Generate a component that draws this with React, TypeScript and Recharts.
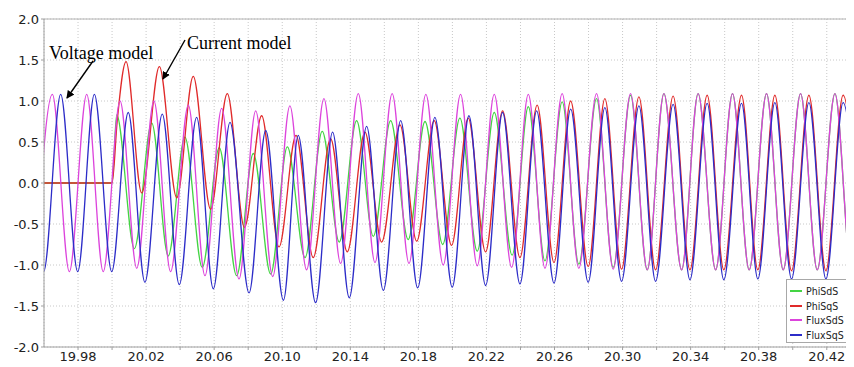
import React from 'react';
import { LineChart, Line, XAxis, YAxis, CartesianGrid, ReferenceLine } from 'recharts';

// peaks/troughs (t in s, flux in pu); monotone curve fills in between
const phiSdS_t = [19.96, 20.0, 20.0027, 20.0131, 20.0233, 20.033, 20.0428, 20.053, 20.063, 20.0732, 20.083, 20.0932, 20.103, 20.1134, 20.1235, 20.1335, 20.1437, 20.1535, 20.1637, 20.174, 20.1839, 20.1943, 20.2044, 20.2146, 20.2246, 20.2351, 20.2446, 20.2544, 20.2645, 20.2743, 20.2847, 20.2945, 20.3047, 20.3145, 20.3243, 20.3347, 20.3444, 20.3547, 20.3646, 20.3744, 20.3846, 20.3944, 20.4046, 20.4144, 20.4248, 20.4345, 20.4445];
const phiSdS_v = [0, 0, 0.83, -0.8, 0.73, -0.89, 0.56, -1.03, 0.43, -1.13, 0.36, -1.11, 0.44, -0.91, 0.63, -0.72, 0.76, -0.65, 0.76, -0.69, 0.75, -0.75, 0.79, -0.83, 0.86, -0.88, 0.93, -0.95, 0.99, -0.99, 1.03, -1.03, 1.07, -1.06, 1.09, -1.06, 1.09, -1.06, 1.09, -1.06, 1.09, -1.06, 1.09, -1.06, 1.09, -1.06, 1.09];

const phiSqS_t = [19.96, 20.0, 20.003, 20.0082, 20.0174, 20.0278, 20.038, 20.0477, 20.0579, 20.0677, 20.0778, 20.0879, 20.0981, 20.1081, 20.1182, 20.1284, 20.1382, 20.1486, 20.1584, 20.1692, 20.179, 20.1893, 20.1995, 20.2093, 20.2195, 20.2295, 20.2397, 20.2498, 20.2597, 20.2695, 20.2798, 20.2896, 20.2994, 20.3096, 20.3194, 20.3297, 20.3396, 20.3497, 20.3595, 20.3699, 20.3795, 20.3895, 20.3993, 20.4095, 20.4195, 20.4296, 20.4395];
const phiSqS_v = [0, 0, 0.75, 1.48, -0.12, 1.42, -0.18, 1.3, -0.32, 1.09, -0.54, 0.82, -0.78, 0.58, -0.91, 0.54, -0.84, 0.62, -0.72, 0.71, -0.71, 0.76, -0.76, 0.79, -0.84, 0.88, -0.91, 0.95, -0.97, 1.0, -1.02, 1.03, -1.05, 1.05, -1.06, 1.06, -1.06, 1.07, -1.06, 1.07, -1.06, 1.07, -1.07, 1.07, -1.07, 1.07, -1.07];

const fluxSdS_t = [19.9549, 19.9649, 19.9749, 19.9851, 19.9948, 20.0047, 20.0145, 20.0246, 20.0344, 20.0448, 20.0546, 20.0644, 20.0746, 20.0844, 20.0944, 20.1045, 20.1143, 20.1245, 20.1343, 20.1447, 20.1545, 20.1646, 20.1745, 20.1844, 20.1946, 20.2048, 20.2146, 20.2246, 20.2348, 20.2446, 20.2544, 20.2645, 20.2743, 20.2847, 20.2945, 20.3047, 20.3145, 20.3243, 20.3347, 20.3444, 20.3547, 20.3646, 20.3744, 20.3846, 20.3944, 20.4046, 20.4144, 20.4248, 20.4345, 20.4445];
const fluxSdS_v = [-1.08, 1.08, -1.08, 1.08, -1.08, 1.0, -1.04, 1.0, -1.08, 0.95, -1.13, 0.91, -1.17, 0.88, -1.14, 0.94, -1.06, 1.03, -0.98, 1.09, -0.97, 1.09, -0.98, 1.08, -1.0, 1.08, -1.01, 1.08, -1.03, 1.08, -1.04, 1.09, -1.04, 1.09, -1.05, 1.09, -1.06, 1.09, -1.06, 1.09, -1.06, 1.09, -1.06, 1.09, -1.06, 1.09, -1.06, 1.09, -1.06, 1.09];

const fluxSqS_t = [19.95, 19.9598, 19.9698, 19.9798, 19.9896, 19.9998, 20.0095, 20.0193, 20.0295, 20.0395, 20.0497, 20.0595, 20.0693, 20.0805, 20.0903, 20.1007, 20.1094, 20.1196, 20.1296, 20.1394, 20.1496, 20.1594, 20.1696, 20.1796, 20.1897, 20.1999, 20.2097, 20.2195, 20.2295, 20.2397, 20.2495, 20.2597, 20.2695, 20.2798, 20.2896, 20.2994, 20.3096, 20.3194, 20.3297, 20.3396, 20.3497, 20.3595, 20.3699, 20.3795, 20.3895, 20.3993, 20.4095, 20.4195, 20.4296, 20.4395];
const fluxSqS_v = [1.08, -1.08, 1.08, -1.08, 1.08, -1.08, 0.86, -1.21, 0.84, -1.24, 0.8, -1.29, 0.74, -1.34, 0.64, -1.43, 0.58, -1.46, 0.62, -1.4, 0.69, -1.31, 0.76, -1.28, 0.8, -1.27, 0.82, -1.25, 0.86, -1.23, 0.88, -1.22, 0.9, -1.21, 0.92, -1.2, 0.94, -1.2, 0.96, -1.18, 0.97, -1.18, 0.97, -1.17, 0.98, -1.17, 0.98, -1.17, 0.98, -1.17];

const xTicks = [19.98, 20.0, 20.02, 20.04, 20.06, 20.08, 20.1, 20.12, 20.14, 20.16, 20.18, 20.2, 20.22, 20.24, 20.26, 20.28, 20.3, 20.32, 20.34, 20.36, 20.38, 20.4, 20.42];
const yTicks = [-2, -1.5, -1, -0.5, 0, 0.5, 1, 1.5, 2];

const toPoints = (t: number[], v: number[]) => t.map((x, i) => ({ t: x, v: v[i] }));

const series = [
  { name: 'PhiSdS', color: '#44d444', data: toPoints(phiSdS_t, phiSdS_v) },
  { name: 'PhiSqS', color: '#e02a2a', data: toPoints(phiSqS_t, phiSqS_v) },
  { name: 'FluxSdS', color: '#dc44dc', data: toPoints(fluxSdS_t, fluxSdS_v) },
  { name: 'FluxSqS', color: '#2c2cc8', data: toPoints(fluxSqS_t, fluxSqS_v) },
];

const tickStyle = { fontFamily: 'DejaVu Sans', fontSize: 13, fill: '#222' };

const Arrow = ({ x1, y1, x2, y2 }: { x1: number; y1: number; x2: number; y2: number }) => (
  <line x1={x1} y1={y1} x2={x2} y2={y2} stroke="#000" strokeWidth={1.4} markerEnd="url(#head)" />
);

export default function App() {
  return (
    <div style={{ position: 'relative', width: 846, height: 359, overflow: 'hidden' }}>
      <LineChart width={846} height={359} data={series[0].data} margin={{ top: 11, right: 0, bottom: 0, left: 0 }}>
        <CartesianGrid stroke="#c8c8c8" strokeDasharray="1 2" />
        <XAxis
          dataKey="t"
          type="number"
          domain={[19.96, 20.436]}
          allowDataOverflow
          ticks={xTicks}
          interval={0}
          height={20}
          tickSize={3}
          stroke="#a0a0a0"
          tick={tickStyle}
          tickFormatter={(t: number) => (Math.round(t * 100) % 4 === 2 ? t.toFixed(2) : '')}
        />
        <YAxis
          type="number"
          domain={[-2, 2]}
          ticks={yTicks}
          interval={0}
          width={36}
          tickSize={3}
          stroke="#a0a0a0"
          tick={tickStyle}
          tickFormatter={(v: number) => v.toFixed(1)}
        />
        <ReferenceLine y={2} stroke="#b4b4b4" />
        {series.map((s) => (
          <Line
            key={s.name}
            data={s.data}
            dataKey="v"
            name={s.name}
            type="monotone"
            stroke={s.color}
            strokeWidth={1.3}
            dot={false}
            isAnimationActive={false}
          />
        ))}
      </LineChart>

      <svg width={846} height={359} style={{ position: 'absolute', left: 0, top: 0, pointerEvents: 'none' }}>
        <defs>
          <marker id="head" markerWidth="8" markerHeight="8" refX="7" refY="4" orient="auto" markerUnits="userSpaceOnUse">
            <path d="M0,0 L8,4 L0,8 Z" fill="#000" />
          </marker>
        </defs>
        <text x={41} y={50.5} fontFamily="Liberation Serif" fontSize={18} fill="#000">Voltage model</text>
        <text x={179} y={40.7} fontFamily="Liberation Serif" fontSize={18} fill="#000">Current model</text>
        <Arrow x1={85} y1={53} x2={59} y2={90} />
        <Arrow x1={177} y1={32} x2={155} y2={71} />
      </svg>

      <div
        style={{
          position: 'absolute',
          left: 778,
          top: 271,
          width: 72,
          height: 64,
          border: '1px solid #a8a8a8',
          background: '#fff',
          padding: '4px 0 0 3px',
          boxSizing: 'border-box',
          fontFamily: 'DejaVu Sans Condensed',
          fontSize: 10.5,
          color: '#222',
        }}
      >
        {series.map((s) => (
          <div key={s.name} style={{ display: 'flex', alignItems: 'center', height: 14.6, whiteSpace: 'nowrap' }}>
            <span style={{ display: 'inline-block', width: 12, height: 2, background: s.color, marginRight: 4 }} />
            <span>{s.name}</span>
          </div>
        ))}
      </div>
    </div>
  );
}
